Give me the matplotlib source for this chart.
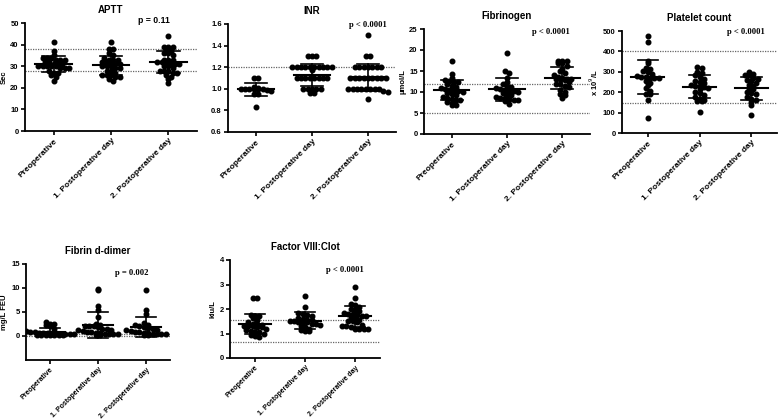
import numpy as np
import matplotlib
matplotlib.use("Agg")
import matplotlib.pyplot as plt

plt.rcParams["font.family"] = ["Liberation Sans", "DejaVu Sans"]

groups = ["Preoperative", "1. Postoperative day", "2. Postoperative day"]

# APTT (Sec)
aptt = [
    [41, 37, 35, 34, 34, 34, 33, 33, 33, 32, 32, 31, 31, 31, 30, 30, 30, 30, 30, 29, 29, 29, 28, 27, 27, 26, 25, 23],
    [41, 38, 38, 36, 35, 34, 33, 33, 33, 32, 32, 31, 31, 31, 30, 30, 30, 29, 29, 28, 28, 27, 26, 26, 26, 25, 25, 24, 23],
    [44, 39, 39, 39, 38, 37, 36, 36, 35, 33, 33, 33, 32, 32, 32, 31, 31, 31, 30, 30, 29, 28, 28, 28, 27, 27, 26, 25, 24, 22],
]
# INR
inr = [
    [1.1, 1.1, 1.02, 1.01, 1.0, 1.0, 1.0, 1.0, 1.0, 1.0, 0.99, 0.98, 0.95, 0.95, 0.83],
    [1.3, 1.3, 1.3, 1.2, 1.2, 1.2, 1.2, 1.2, 1.2, 1.2, 1.2, 1.2, 1.2, 1.17, 1.1, 1.1, 1.1, 1.1, 1.1, 1.1, 1.1, 1.1,
     1.0, 1.0, 1.0, 1.0, 1.0, 0.96, 0.96],
    [1.5, 1.3, 1.3, 1.2, 1.2, 1.2, 1.2, 1.2, 1.2, 1.2, 1.1, 1.1, 1.1, 1.1, 1.1, 1.1, 1.1, 1.1, 1.1,
     1.0, 1.0, 1.0, 1.0, 1.0, 1.0, 1.0, 1.0, 0.98, 0.97, 0.91],
]
# Fibrinogen (umol/L)
fibrinogen = [
    [17.4, 14.4, 13.3, 12.8, 12.6, 12.5, 12.4, 12.0, 11.4, 11.2, 11.0, 10.6, 10.5, 10.3, 10.2, 10.0, 9.8, 9.5, 9.3,
     8.9, 8.5, 8.3, 8.2, 8.0, 7.6, 7.4, 7.0, 6.8],
    [19.2, 15.0, 14.5, 13.3, 12.3, 11.8, 11.5, 11.2, 11.0, 10.8, 10.5, 10.3, 10.2, 10.0, 9.8, 9.5, 9.2, 8.8, 8.6,
     8.5, 8.3, 8.2, 8.0, 7.8, 7.2],
    [17.5, 17.4, 17.3, 17.0, 16.8, 16.3, 15.5, 15.0, 14.5, 14.0, 13.5, 13.4, 13.2, 13.1, 13.0, 13.0, 12.9, 12.5,
     12.0, 11.8, 11.5, 11.2, 10.5, 10.0, 9.5, 9.3, 8.5],
]
# Platelet count (x 10^9/L)
platelets = [
    [475, 445, 355, 345, 320, 312, 305, 300, 290, 280, 275, 275, 272, 270, 268, 255, 245, 235, 220, 205, 192, 190, 160, 75],
    [325, 320, 300, 295, 285, 275, 265, 255, 250, 245, 235, 230, 228, 225, 222, 215, 200, 195, 185, 175, 165, 160,
     155, 155, 105],
    [300, 290, 285, 285, 270, 265, 260, 255, 245, 235, 230, 220, 215, 200, 195, 190, 175, 165, 160, 150, 135, 88],
]
# Fibrin d-dimer (mg/L FEU)
ddimer = [
    [2.9, 2.6, 2.6, 2.2, 2.0, 1.4, 1.0, 0.9, 0.8, 0.7, 0.6, 0.6, 0.5, 0.5, 0.5, 0.4, 0.4, 0.4, 0.3, 0.3, 0.3, 0.3,
     0.3, 0.3, 0.3],
    [9.7, 9.5, 6.2, 5.5, 4.0, 2.4, 2.3, 2.1, 2.0, 2.0, 1.9, 1.5, 1.4, 1.3, 1.2, 1.0, 0.9, 0.8, 0.7, 0.6, 0.5, 0.5,
     0.4, 0.4, 0.3, 0.3],
    [9.6, 5.5, 4.5, 2.7, 2.3, 2.2, 2.0, 1.8, 1.6, 1.5, 1.3, 1.2, 1.0, 0.9, 0.8, 0.7, 0.6, 0.5, 0.5, 0.4, 0.4, 0.3, 0.3],
]
# Factor VIII:Clot (kiu/L)
factor8 = [
    [2.45, 2.45, 1.75, 1.72, 1.7, 1.62, 1.55, 1.45, 1.4, 1.38, 1.35, 1.32, 1.3, 1.3, 1.28, 1.25, 1.2, 1.15, 1.1,
     1.08, 1.05, 1.0, 0.95, 0.9, 0.85],
    [2.55, 2.1, 1.85, 1.8, 1.75, 1.7, 1.65, 1.6, 1.55, 1.55, 1.5, 1.5, 1.48, 1.45, 1.45, 1.4, 1.38, 1.35, 1.3,
     1.25, 1.2, 1.15, 1.12, 1.1],
    [2.9, 2.45, 2.2, 2.15, 2.1, 2.0, 1.95, 1.9, 1.85, 1.8, 1.78, 1.75, 1.72, 1.7, 1.65, 1.6, 1.55, 1.5, 1.5, 1.45,
     1.35, 1.3, 1.3, 1.25, 1.2, 1.2, 1.2, 1.18],
]

titles = ["APTT", "INR", "Fibrinogen", "Platelet count", "Fibrin d-dimer", "Factor VIII:Clot"]
ylabels = ["Sec", "", "µmol/L", r"x 10$^9$/L", "mg/L FEU", "kiu/L"]
pvalues = ["p = 0.11", "p < 0.0001", "p < 0.0001", "p < 0.0001", "p = 0.002", "p < 0.0001"]
ref_lines = [[38, 28], [1.2], [12, 5], [400, 145], [0.5, 0.0], [1.55, 0.65]]
ylims = [(0, 50), (0.6, 1.6), (0, 25), (0, 500), (-5, 15), (0, 4)]
yticks = [np.arange(0, 51, 10), np.arange(0.6, 1.61, 0.2), np.arange(0, 26, 5),
          np.arange(0, 501, 100), [0, 5, 10, 15], np.arange(0, 5, 1)]
ytick_fmt = ["{:.0f}", "{:.1f}", "{:.0f}", "{:.0f}", "{:.0f}", "{:.0f}"]
p_pos = [(1.75, 51), (2.0, 1.59), (1.8, 24.3), (1.9, 495), (1.7, 13.1), (1.8, 3.6)]
p_font = ["Liberation Sans", "Liberation Serif", "Liberation Serif", "Liberation Serif",
          "Liberation Serif", "Liberation Serif"]

# axes boxes in pixels: left, right, top, bottom
W, H = 778, 420
boxes = [(25, 197, 23, 131), (228, 396, 24, 132), (424, 590, 29, 134), (622, 777, 31, 133),
         (26, 170, 264, 360), (230, 380, 260, 358)]
xlabel_size = [6.0, 6.0, 6.0, 6.0, 5.0, 5.0]

DOT_MS = 3.3   # marker size in points
ROW_PX = 4.4   # height of one row of dots
STEP_PX = 4.4  # horizontal distance between dots in a row


def row_scatter(ax, xc, vals):
    """Prism-like scatter: values that fall in the same row are spread sideways."""
    vals = np.asarray(vals, dtype=float)
    pix = ax.transData.transform(np.column_stack([np.full(len(vals), xc), vals]))
    x0 = pix[0, 0]
    rows = np.round(pix[:, 1] / ROW_PX).astype(int)
    xs = np.zeros(len(vals))
    for row in np.unique(rows):
        idx = np.where(rows == row)[0]
        n = len(idx)
        xs[idx] = (np.arange(n) - (n - 1) / 2) * STEP_PX
    data = ax.transData.inverted().transform(np.column_stack([x0 + xs, pix[:, 1]]))
    return data[:, 0]


fig = plt.figure(figsize=(W / 100, H / 100), dpi=100)
datasets = [aptt, inr, fibrinogen, platelets, ddimer, factor8]

for k, data in enumerate(datasets):
    l, r, t, b = boxes[k]
    ax = fig.add_axes([l / W, 1 - b / H, (r - l) / W, (b - t) / H])
    ax.set_xlim(-0.5, 2.5)
    ax.set_ylim(*ylims[k])

    for yv in ref_lines[k]:
        ax.axhline(yv, color="#666666", lw=0.9, ls=(0, (1, 1)), zorder=1)

    for g, vals in enumerate(data):
        xs = row_scatter(ax, g, vals)
        ax.plot(xs, vals, "o", ms=DOT_MS, color="black", mec="black", zorder=3)
        m = np.mean(vals)
        sd = np.std(vals, ddof=1)
        ax.plot([g - 0.32, g + 0.32], [m, m], color="black", lw=1.5, zorder=4)
        ax.plot([g, g], [m - sd, m + sd], color="black", lw=1.2, zorder=4)
        for yy in (m - sd, m + sd):
            ax.plot([g - 0.2, g + 0.2], [yy, yy], color="black", lw=1.2, zorder=4)

    ax.text(p_pos[k][0], p_pos[k][1], pvalues[k], ha="center", va="center",
            fontsize=6.2, fontweight="bold", family=p_font[k])

    ax.set_title(titles[k], fontsize=7, fontweight="bold", pad=7)
    ax.set_ylabel(ylabels[k], fontsize=5.5, fontweight="bold", labelpad=2)
    ax.set_yticks(yticks[k])
    ax.set_yticklabels([ytick_fmt[k].format(v) for v in yticks[k]], fontsize=5.5, fontweight="bold")
    ax.set_xticks(range(3))
    ax.set_xticklabels(groups, rotation=45, ha="right", rotation_mode="anchor",
                       fontsize=xlabel_size[k], fontweight="bold")

    for side in ("top", "right"):
        ax.spines[side].set_visible(False)
    for side in ("left", "bottom"):
        ax.spines[side].set_linewidth(1.3)
    ax.tick_params(length=3, width=1.2, pad=1.5)

fig.savefig("out.png", dpi=100)
